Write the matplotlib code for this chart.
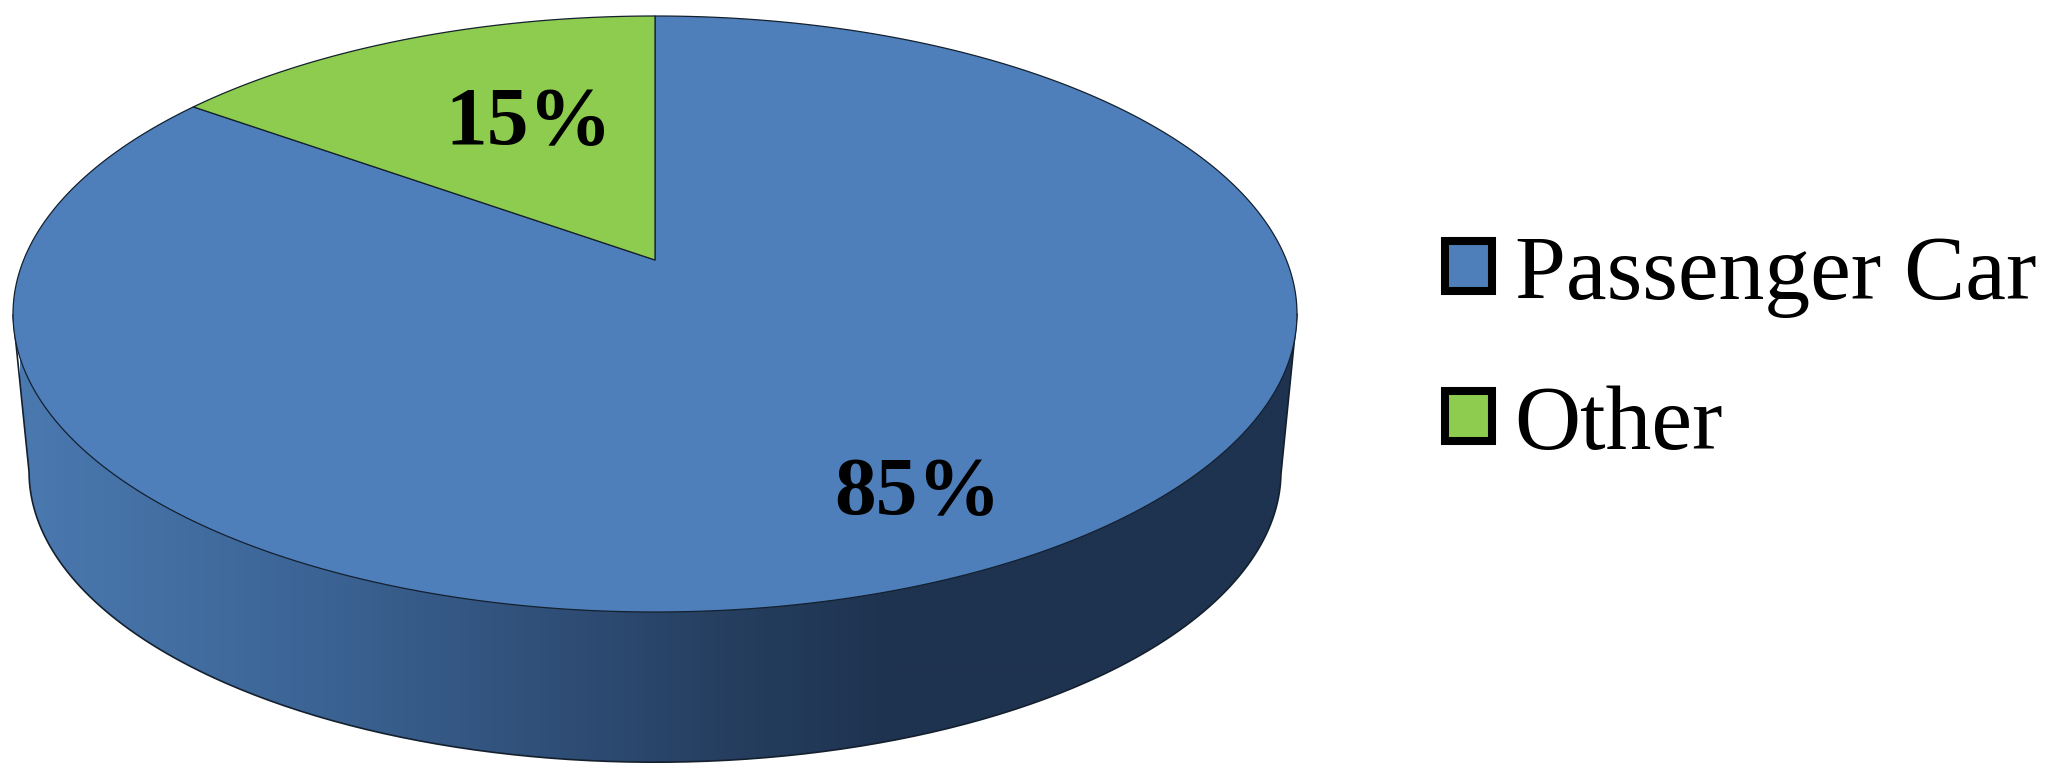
"""
plot.py
Perspective 3D pie of vehicle share, drawn in pixel coordinates
"""

import numpy as np
from matplotlib import pyplot as plt
from matplotlib.colors import LinearSegmentedColormap
from matplotlib.patches import Patch, PathPatch, Polygon
from matplotlib.path import Path

# Data
LABELS = ["Passenger Car", "Other"]
VALUES = [85, 15]
VALUE_TEXT = ["85%", "15%"]

# Colors
COLORS = ["#4E7FBB", "#8DCC4E"]
EDGE = "#14202E"
SIDE_STOPS = [(0.0, "#4A79B0"), (0.22, "#3C6596"), (0.42, "#2F4E77"),
              (0.55, "#263F60"), (0.68, "#1E3350"), (1.0, "#1E3350")]

# Geometry of the disc, in image pixels
WIDTH, HEIGHT = 2061, 784
APEX = (655, 260)        # where the pie centre lands after perspective
NEAR, FAR = 352, 244     # apex to front / back rim of the top face
HALF_WIDTH = 642         # half width of the top face
DEPTH = 159              # drop of the lower rim
LOWER_SCALE = 0.975      # lower rim is slightly smaller

# Perspective constants worked out from the rim distances
TILT = (NEAR - FAR) / (NEAR + FAR)
SCALE_Y = FAR * (1 + TILT)
SCALE_X = HALF_WIDTH * np.sqrt(1 - TILT ** 2)


def project(angle, scale=1.0, drop=0.0):
    """
    Map angle (radians, clockwise from 12 o'clock) on the pie rim to pixels
    """
    u, v = np.sin(angle), np.cos(angle)
    w = 1 + TILT * v
    return np.column_stack([APEX[0] + scale * SCALE_X * u / w,
                            APEX[1] + drop - scale * SCALE_Y * v / w])


fig = plt.figure(figsize=(WIDTH / 100, HEIGHT / 100), dpi=100)
ax = fig.add_axes([0, 0, 1, 1])

# Side wall: from the widest points of the upper rim around the lower rim
rim = np.linspace(0, 2 * np.pi, 721)
top_rim = project(rim)
low_rim = project(rim, LOWER_SCALE, DEPTH)
left = top_rim[np.argmin(top_rim[:, 0])]
right = top_rim[np.argmax(top_rim[:, 0])]
low_left = low_rim[np.argmin(low_rim[:, 0])]
low_arc = low_rim[low_rim[:, 1] >= low_left[1]]
low_arc = low_arc[np.argsort(low_arc[:, 0])]
side = np.vstack([left, low_arc, right, left])

side_patch = PathPatch(Path(side), facecolor="none", edgecolor=EDGE, linewidth=1.2, zorder=3)
ax.add_patch(side_patch)
side_cmap = LinearSegmentedColormap.from_list("side", SIDE_STOPS)
image = ax.imshow(np.linspace(0, 1, 512).reshape(1, -1), cmap=side_cmap, aspect="auto",
                  extent=(20, 1300, HEIGHT, 0), zorder=2)
image.set_clip_path(side_patch)
ax.set_xlim(0, WIDTH)
ax.set_ylim(HEIGHT, 0)
ax.axis("off")

# Top face: one wedge per value, clockwise from 12 o'clock
start = 0.0
for value, color in zip(VALUES, COLORS):
    sweep = 2 * np.pi * value / sum(VALUES)
    arc = project(np.linspace(start, start + sweep, 400))
    ax.add_patch(Polygon(np.vstack([APEX, arc]), closed=True, facecolor=color,
                         edgecolor=EDGE, linewidth=0.9, joinstyle="round", zorder=4))
    start += sweep

# Value labels
ax.text(918, 495, VALUE_TEXT[0], family="Liberation Serif", weight="bold", fontsize=60,
        ha="center", va="center", color="black", zorder=5)
ax.text(529, 124, VALUE_TEXT[1], family="Liberation Serif", weight="bold", fontsize=60,
        ha="center", va="center", color="black", zorder=5)

# Legend
handles = [Patch(facecolor=c, edgecolor="black", linewidth=5.8, joinstyle="round") for c in COLORS]
ax.legend(handles, LABELS, loc="upper left", bbox_to_anchor=(1445 / WIDTH, 1 - 235 / HEIGHT),
          frameon=False, prop={"family": "Liberation Serif", "size": 66},
          handlelength=0.51, handleheight=0.47, handletextpad=0.25, labelspacing=0.74,
          borderpad=0, borderaxespad=0)

fig.savefig("out.png", dpi=100)
